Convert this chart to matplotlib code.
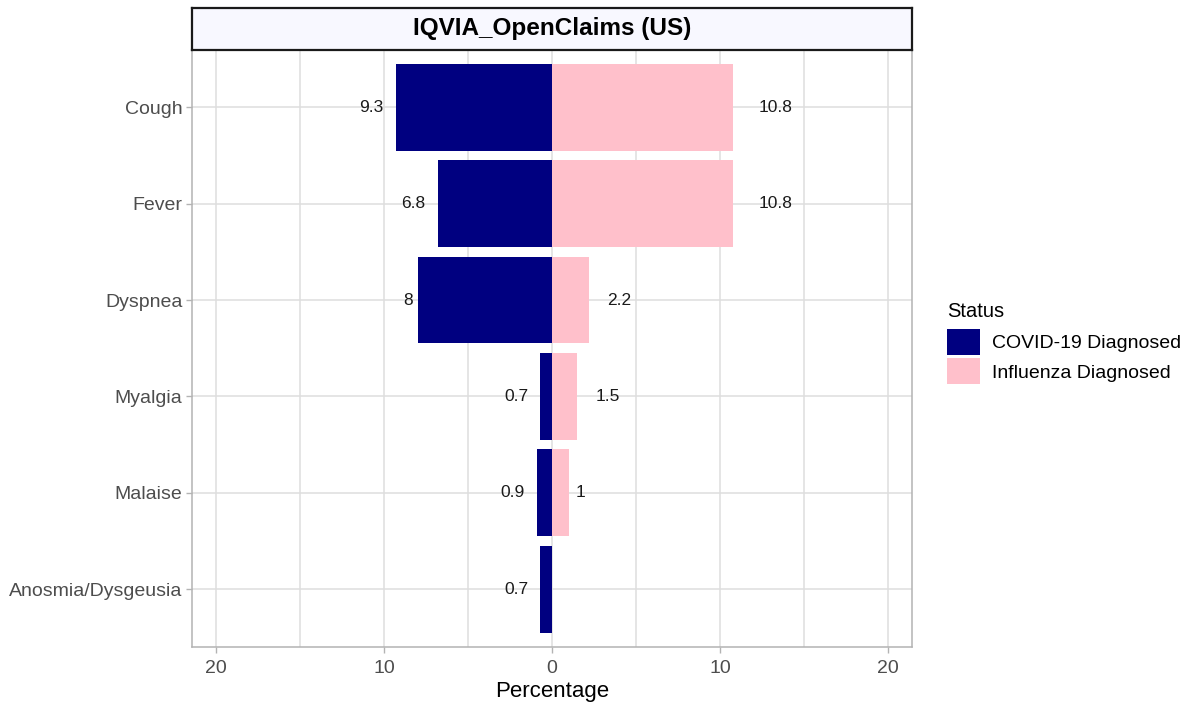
import matplotlib.pyplot as plt
import numpy as np
from matplotlib.patches import Patch

plt.rcParams['font.family'] = ['Liberation Sans', 'DejaVu Sans']

symptoms = ["Cough", "Fever", "Dyspnea", "Myalgia", "Malaise", "Anosmia/Dysgeusia"]
covid = [9.3, 6.8, 8, 0.7, 0.9, 0.7]
influenza = [10.8, 10.8, 2.2, 1.5, 1, np.nan]
series_names = ["COVID-19 Diagnosed", "Influenza Diagnosed"]
colors = ["#000080", "#FFC0CB"]
title = "IQVIA_OpenClaims (US)"
xticks = [-20, -10, 0, 10, 20]

fig = plt.figure(figsize=(11.9, 7.05), dpi=100)
ax = fig.add_axes([192/1190, 1 - 647/705, 720/1190, 597.5/705])
strip = fig.add_axes([192/1190, 1 - 49.5/705, 720/1190, 41.5/705])

y = np.arange(len(symptoms))
ax.barh(y, -np.array(covid), height=0.9, color=colors[0], zorder=3)
ax.barh(y, np.nan_to_num(influenza), height=0.9, color=colors[1], zorder=3)

ax.set_xlim(-21.43, 21.43)
ax.set_ylim(len(symptoms) - 0.4, -0.6)
ax.set_yticks(y)
ax.set_yticklabels(symptoms)
ax.set_xticks(xticks)
ax.set_xticklabels([str(abs(t)) for t in xticks])
ax.set_xticks([-15, -5, 5, 15], minor=True)
ax.grid(True, which='both', axis='x', color='#DEDEDE', lw=1.1, zorder=0)
ax.grid(True, which='major', axis='y', color='#DEDEDE', lw=1.1, zorder=0)
ax.tick_params(which='major', length=4, width=1, color='#B3B3B3',
               labelsize=14, labelcolor='#4D4D4D', pad=3)
ax.tick_params(axis='x', pad=5.5)
ax.tick_params(which='minor', length=0)
for s in ax.spines.values():
    s.set_color('#B3B3B3')
    s.set_linewidth(1.1)
ax.set_xlabel("Percentage", fontsize=16, labelpad=3)

# value labels, pushed out by a fraction of their own width (like hjust)
texts = []
for i in range(len(symptoms)):
    t = ax.annotate(f"{covid[i]:g}", (-covid[i], i), xytext=(0, 0),
                    textcoords='offset pixels', ha='right', va='center',
                    fontsize=12.5, color='#1A1A1A', zorder=4)
    texts.append((t, -0.5))
    if not np.isnan(influenza[i]):
        t = ax.annotate(f"{influenza[i]:g}", (influenza[i], i), xytext=(0, 0),
                        textcoords='offset pixels', ha='left', va='center',
                        fontsize=12.5, color='#1A1A1A', zorder=4)
        texts.append((t, 0.75))
fig.canvas.draw()
r = fig.canvas.get_renderer()
for t, k in texts:
    w = t.get_window_extent(r).width
    t.xyann = (k * w, 0)

strip.set_facecolor('#F8F8FF')
strip.set_xticks([])
strip.set_yticks([])
for s in strip.spines.values():
    s.set_color('#1A1A1A')
    s.set_linewidth(1.6)
strip.text(0.5, 0.5, title, ha='center', va='center', fontsize=17.5,
           fontweight='bold', transform=strip.transAxes)

# legend: title placed on its own so the gap to the keys matches
fig.text(947/1190, 1 - 311/705, "Status", ha='left', va='center', fontsize=14.5)
handles = [Patch(facecolor=c, edgecolor='none') for c in colors]
leg = fig.legend(handles, series_names, loc='upper left',
                 bbox_to_anchor=(947/1190, 1 - 329/705), frameon=False,
                 fontsize=14, handlelength=1.7, handleheight=1.7,
                 handletextpad=0.6, labelspacing=0.15,
                 borderaxespad=0, borderpad=0)

fig.savefig("out.png", dpi=100)
